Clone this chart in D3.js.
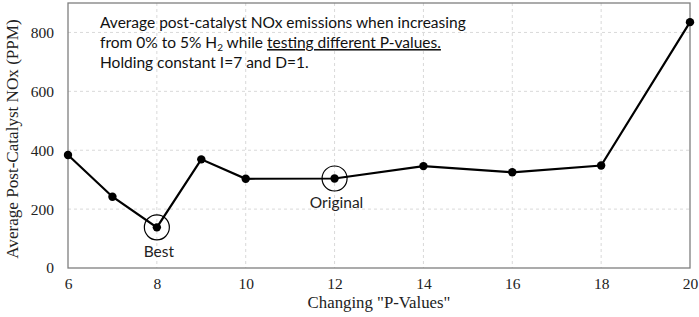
<!DOCTYPE html>
<html>
<head>
<meta charset="utf-8">
<script src="https://cdn.jsdelivr.net/npm/d3@7"></script>
<style>
  body { margin: 0; background: #fff; }
  svg { display: block; }
</style>
</head>
<body>
<script>
// P-values tested and the averaged NOx readings (PPM)
const pValues = [6, 7, 8, 9, 10, 12, 14, 16, 18, 20];
const noxPPM = [384, 242, 138, 369, 303, 304, 346, 325, 348, 835];
const xTicks = [6, 8, 10, 12, 14, 16, 18, 20];
const yTicks = [0, 200, 400, 600, 800];
const highlights = [{ p: 8, label: "Best" }, { p: 12, label: "Original" }];

const width = 699, height = 317;
const margin = { top: 3, right: 9, bottom: 49, left: 68 };

const svg = d3.select("body").append("svg")
    .attr("width", width)
    .attr("height", height);

const x = d3.scaleLinear().domain([6, 20]).range([margin.left, width - margin.right]);
const y = d3.scaleLinear().domain([0, 900]).range([height - margin.bottom, margin.top]);

// dashed grid
svg.append("g")
    .selectAll("line")
    .data(yTicks.filter(d => d > 0))
    .join("line")
    .attr("x1", margin.left).attr("x2", width - margin.right)
    .attr("y1", d => y(d)).attr("y2", d => y(d))
    .attr("stroke", "#d9d9d9").attr("stroke-dasharray", "3,3");

svg.append("g")
    .selectAll("line")
    .data(xTicks.filter(d => d > 6 && d < 20))
    .join("line")
    .attr("y1", margin.top).attr("y2", height - margin.bottom)
    .attr("x1", d => x(d)).attr("x2", d => x(d))
    .attr("stroke", "#d9d9d9").attr("stroke-dasharray", "3,3");

// plot frame
svg.append("rect")
    .attr("x", margin.left).attr("y", margin.top)
    .attr("width", width - margin.right - margin.left)
    .attr("height", height - margin.bottom - margin.top)
    .attr("fill", "none").attr("stroke", "#7f7f7f").attr("stroke-width", 1.3);

// axes (labels only)
const xAxis = svg.append("g")
    .attr("transform", `translate(0,${height - margin.bottom})`)
    .call(d3.axisBottom(x).tickValues(xTicks).tickSize(0).tickPadding(10));
const yAxis = svg.append("g")
    .attr("transform", `translate(${margin.left},0)`)
    .call(d3.axisLeft(y).tickValues(yTicks).tickSize(0).tickPadding(14));
[xAxis, yAxis].forEach(a => {
    a.select(".domain").remove();
    a.selectAll("text")
        .attr("font-family", "'Liberation Serif', 'Times New Roman', serif")
        .attr("font-size", 15.5).attr("fill", "#222");
});

svg.append("text")
    .attr("x", 379)
    .attr("y", 308)
    .attr("text-anchor", "middle")
    .attr("font-family", "'Liberation Serif', 'Times New Roman', serif")
    .attr("font-size", 16.8).attr("fill", "#222")
    .text('Changing "P-Values"');

svg.append("text")
    .attr("transform", "translate(18,139) rotate(-90)")
    .attr("text-anchor", "middle")
    .attr("font-family", "'Liberation Serif', 'Times New Roman', serif")
    .attr("font-size", 17.1).attr("fill", "#222")
    .text("Average Post-Catalyst NOx (PPM)");

// the series
const pts = pValues.map((p, i) => ({ p, v: noxPPM[i] }));
svg.append("path")
    .datum(pts)
    .attr("fill", "none").attr("stroke", "#000").attr("stroke-width", 2.2)
    .attr("d", d3.line().x(d => x(d.p)).y(d => y(d.v)));

svg.append("g")
    .selectAll("circle")
    .data(pts)
    .join("circle")
    .attr("cx", d => x(d.p)).attr("cy", d => y(d.v))
    .attr("r", 4.2).attr("fill", "#000");

// highlighted points
const hl = highlights.map(h => ({ ...h, v: noxPPM[pValues.indexOf(h.p)] }));
svg.append("g")
    .selectAll("circle")
    .data(hl)
    .join("circle")
    .attr("cx", d => x(d.p)).attr("cy", d => y(d.v))
    .attr("r", 12.5).attr("fill", "none").attr("stroke", "#000").attr("stroke-width", 1.2);

svg.append("g")
    .selectAll("text")
    .data(hl)
    .join("text")
    .attr("x", d => x(d.p) + 2).attr("y", d => y(d.v) + 30)
    .attr("text-anchor", "middle")
    .attr("font-family", "Lato, 'Open Sans', sans-serif")
    .attr("font-size", 15.5).attr("fill", "#222")
    .text(d => d.label);

// annotation box text
const note = svg.append("text")
    .attr("font-family", "Lato, 'Open Sans', sans-serif")
    .attr("font-size", 15.5).attr("fill", "#111");
note.append("tspan").attr("x", 100).attr("y", 28)
    .text("Average post-catalyst NOx emissions when increasing");
const l2 = note.append("tspan").attr("x", 100).attr("y", 48);
l2.append("tspan").text("from 0% to 5% H");
l2.append("tspan").attr("font-size", 10).attr("dy", 3).text("2");
l2.append("tspan").attr("dy", -3).text(" while ");
l2.append("tspan").attr("text-decoration", "underline").text("testing different P-values.");
note.append("tspan").attr("x", 100).attr("y", 68)
    .text("Holding constant I=7 and D=1.");
</script>
</body>
</html>
